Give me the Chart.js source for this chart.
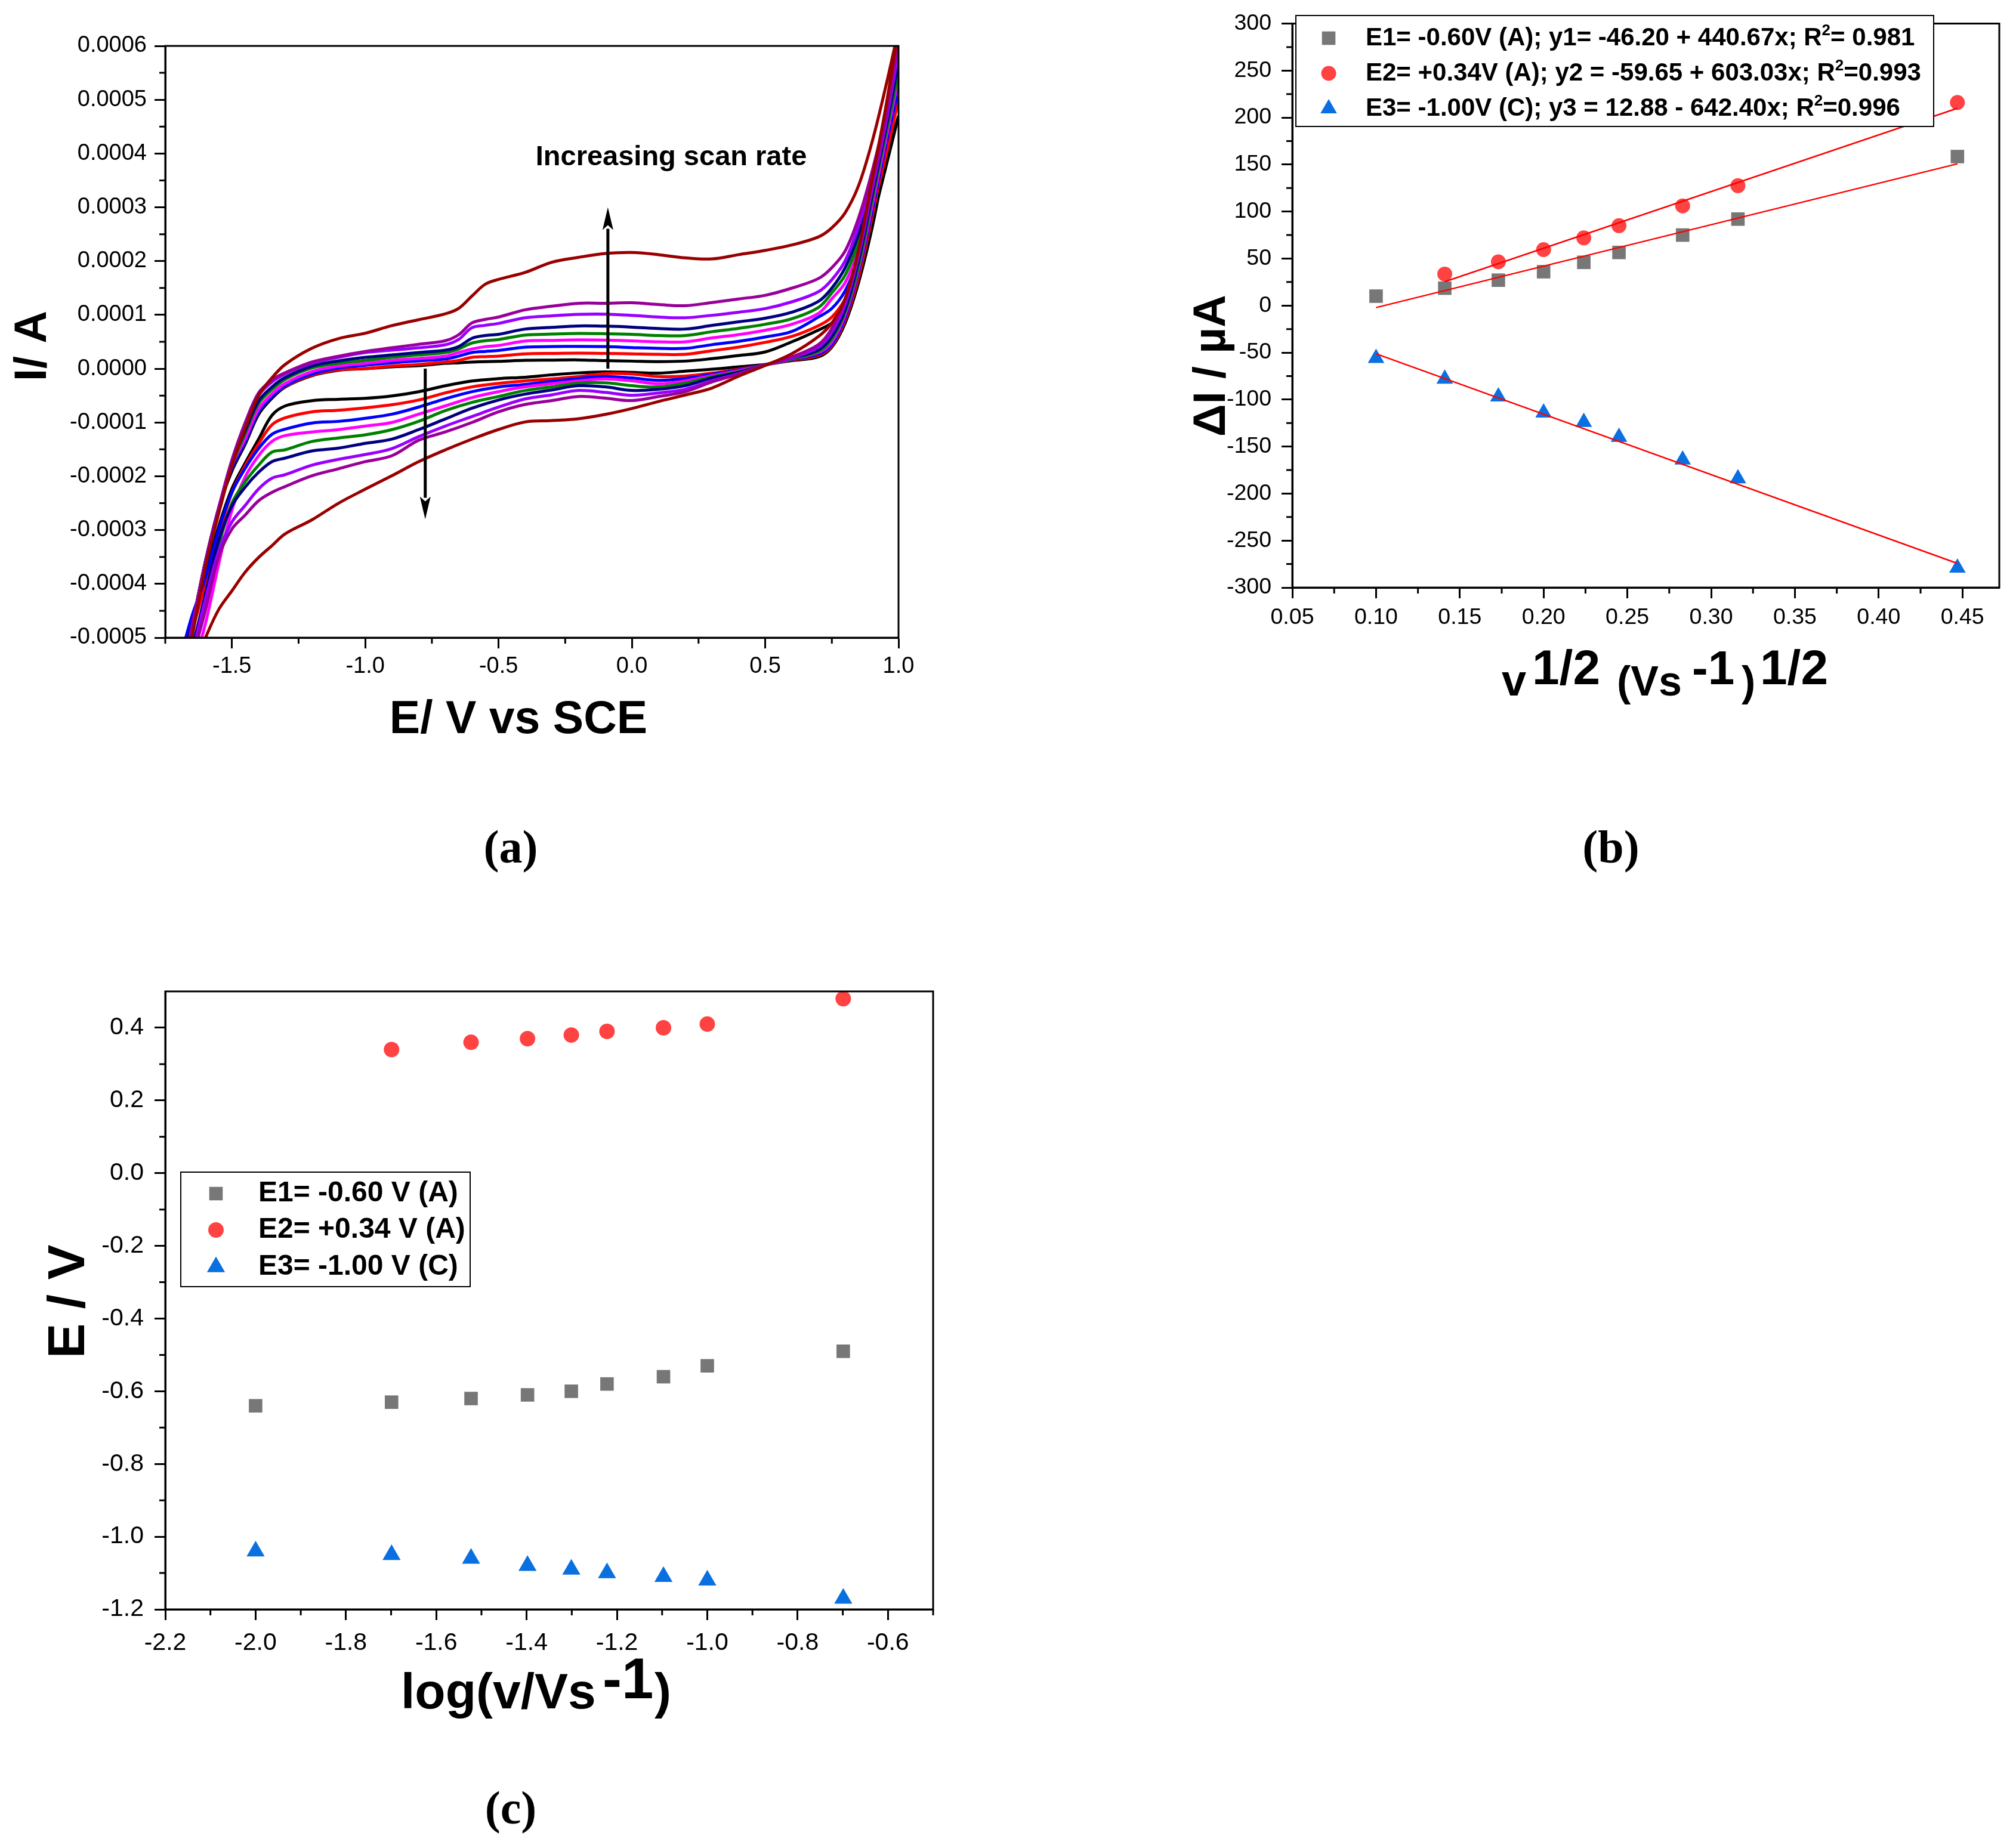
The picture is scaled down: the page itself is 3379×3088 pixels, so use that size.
<!DOCTYPE html>
<html>
<head>
<meta charset="utf-8">
<script src="https://cdn.jsdelivr.net/npm/chart.js@4.4.1/dist/chart.umd.min.js"></script>
<style>
  html, body { margin: 0; padding: 0; background: #fff; }
  body { width: 3379px; height: 3088px; position: relative; overflow: hidden; }
  canvas { position: absolute; }
</style>
</head>
<body>
<canvas id="cv" width="1650" height="1500" style="left:0;top:0"></canvas>
<canvas id="peaks" width="1679" height="1500" style="left:1700px;top:0"></canvas>
<canvas id="potentials" width="1650" height="1588" style="left:0;top:1500px"></canvas>
<script>
// ---------- (a) cyclic voltammograms, current in units of 1e-4 A ----------
const scanRates = ['10', '20', '30', '40', '50', '60', '80', '100', '200']; // mV/s
const fwdPotential = [-1.70, -1.65, -1.60, -1.55, -1.50, -1.45, -1.40, -1.35, -1.30, -1.20, -1.10, -1.00, -0.90, -0.80, -0.70, -0.65, -0.60, -0.55, -0.50, -0.40, -0.30, -0.20, -0.10, 0.00, 0.10, 0.20, 0.30, 0.40, 0.50, 0.60, 0.70, 0.75, 0.80, 0.85, 0.90, 0.95, 1.00];
const revPotential = [1.00, 0.95, 0.90, 0.85, 0.80, 0.75, 0.70, 0.60, 0.50, 0.40, 0.30, 0.20, 0.10, 0.00, -0.10, -0.20, -0.30, -0.40, -0.50, -0.60, -0.70, -0.80, -0.90, -1.00, -1.10, -1.20, -1.30, -1.35, -1.40, -1.45, -1.50, -1.55, -1.60, -1.65, -1.70];

const cv10Fwd = [-6.0, -4.8, -3.6, -2.6, -1.9, -1.4, -0.85, -0.55, -0.34, -0.13, -0.03, 0.00, 0.035, 0.057, 0.10, 0.11, 0.123, 0.132, 0.136, 0.155, 0.159, 0.163, 0.15, 0.141, 0.132, 0.141, 0.186, 0.244, 0.311, 0.50, 0.72, 0.85, 1.10, 1.70, 2.70, 3.70, 4.70];
const cv10Rev = [4.70, 3.80, 2.60, 1.60, 0.85, 0.40, 0.22, 0.15, 0.08, 0.034, -0.011, -0.047, -0.083, -0.069, -0.06, -0.078, -0.114, -0.159, -0.185, -0.229, -0.317, -0.428, -0.507, -0.551, -0.569, -0.595, -0.692, -0.868, -1.31, -1.75, -2.23, -2.94, -3.82, -4.66, -5.60];
const cv20Fwd = [-6.0, -4.8, -3.6, -2.6, -1.85, -1.35, -0.80, -0.52, -0.33, -0.12, -0.022, 0.004, 0.048, 0.079, 0.123, 0.154, 0.211, 0.224, 0.233, 0.275, 0.284, 0.289, 0.284, 0.275, 0.266, 0.266, 0.334, 0.401, 0.49, 0.60, 0.80, 0.96, 1.30, 1.90, 2.90, 3.90, 5.00];
const cv20Rev = [5.00, 4.00, 2.80, 1.70, 0.90, 0.42, 0.25, 0.16, 0.07, -0.01, -0.083, -0.137, -0.146, -0.10, -0.092, -0.146, -0.19, -0.226, -0.273, -0.339, -0.45, -0.582, -0.67, -0.727, -0.772, -0.802, -0.913, -1.045, -1.397, -1.80, -2.30, -3.10, -4.00, -4.90, -5.80];
const cv30Fwd = [-6.0, -4.8, -3.6, -2.6, -1.85, -1.35, -0.80, -0.52, -0.317, -0.097, 0.013, 0.066, 0.11, 0.145, 0.18, 0.233, 0.30, 0.321, 0.339, 0.40, 0.41, 0.414, 0.41, 0.392, 0.378, 0.378, 0.446, 0.508, 0.589, 0.692, 0.961, 1.12, 1.45, 2.05, 3.00, 4.10, 5.20];
const cv30Rev = [5.20, 4.10, 2.90, 1.80, 0.95, 0.45, 0.27, 0.17, 0.07, -0.024, -0.105, -0.181, -0.217, -0.172, -0.146, -0.181, -0.235, -0.293, -0.339, -0.427, -0.56, -0.714, -0.846, -0.921, -0.979, -1.01, -1.124, -1.22, -1.485, -1.85, -2.30, -3.00, -3.90, -4.60, -5.50];
const cv40Fwd = [-6.0, -4.8, -3.6, -2.6, -1.8, -1.3, -0.75, -0.47, -0.273, -0.053, 0.048, 0.101, 0.154, 0.19, 0.233, 0.30, 0.366, 0.41, 0.432, 0.513, 0.526, 0.535, 0.53, 0.517, 0.499, 0.499, 0.571, 0.634, 0.714, 0.826, 1.028, 1.30, 1.60, 2.20, 3.10, 4.20, 5.40];
const cv40Rev = [5.40, 4.20, 3.00, 1.85, 1.00, 0.50, 0.30, 0.18, 0.07, -0.038, -0.128, -0.226, -0.28, -0.226, -0.19, -0.226, -0.28, -0.338, -0.427, -0.538, -0.692, -0.846, -1.00, -1.067, -1.133, -1.177, -1.243, -1.353, -1.618, -2.01, -2.63, -3.64, -4.75, -5.60, -6.20];
const cv50Fwd = [-6.0, -4.8, -3.6, -2.6, -1.8, -1.2, -0.65, -0.39, -0.198, 0.013, 0.101, 0.154, 0.211, 0.255, 0.30, 0.366, 0.476, 0.52, 0.542, 0.625, 0.643, 0.656, 0.65, 0.638, 0.616, 0.616, 0.687, 0.75, 0.826, 0.929, 1.14, 1.41, 1.74, 2.35, 3.20, 4.30, 5.50];
const cv50Rev = [5.50, 4.30, 3.10, 1.90, 1.05, 0.55, 0.32, 0.18, 0.07, -0.055, -0.15, -0.27, -0.338, -0.316, -0.262, -0.27, -0.338, -0.405, -0.516, -0.626, -0.78, -0.979, -1.133, -1.23, -1.287, -1.353, -1.507, -1.551, -1.794, -2.10, -2.50, -3.30, -4.30, -5.30, -6.10];
const cv60Fwd = [-6.0, -4.8, -3.6, -2.6, -1.75, -1.15, -0.60, -0.34, -0.163, 0.048, 0.145, 0.211, 0.255, 0.30, 0.344, 0.41, 0.564, 0.617, 0.639, 0.737, 0.768, 0.795, 0.79, 0.773, 0.746, 0.737, 0.804, 0.871, 0.938, 1.05, 1.252, 1.50, 1.88, 2.50, 3.35, 4.40, 5.70];
const cv60Rev = [5.70, 4.40, 3.20, 2.00, 1.10, 0.60, 0.35, 0.20, 0.07, -0.069, -0.172, -0.316, -0.383, -0.405, -0.338, -0.316, -0.396, -0.472, -0.582, -0.736, -0.935, -1.133, -1.309, -1.388, -1.477, -1.53, -1.662, -1.728, -1.926, -2.20, -2.55, -3.20, -4.20, -5.20, -6.00];
const cv80Fwd = [-6.0, -4.8, -3.6, -2.6, -1.7, -1.05, -0.50, -0.25, -0.097, 0.101, 0.211, 0.30, 0.344, 0.388, 0.445, 0.542, 0.762, 0.806, 0.842, 0.947, 0.983, 1.01, 1.014, 0.992, 0.961, 0.947, 0.992, 1.05, 1.117, 1.243, 1.431, 1.655, 2.01, 2.65, 3.50, 4.55, 5.90];
const cv80Rev = [5.90, 4.50, 3.30, 2.10, 1.20, 0.68, 0.40, 0.20, 0.07, -0.092, -0.226, -0.383, -0.45, -0.495, -0.441, -0.405, -0.486, -0.562, -0.714, -0.89, -1.067, -1.265, -1.485, -1.595, -1.684, -1.794, -1.97, -2.036, -2.235, -2.54, -2.85, -3.40, -4.30, -5.30, -6.10];
const cv100Fwd = [-6.0, -4.8, -3.6, -2.6, -1.7, -1.0, -0.45, -0.21, -0.075, 0.123, 0.233, 0.321, 0.388, 0.454, 0.52, 0.63, 0.85, 0.916, 0.96, 1.095, 1.162, 1.216, 1.216, 1.225, 1.193, 1.171, 1.229, 1.296, 1.364, 1.498, 1.677, 1.879, 2.19, 2.80, 3.65, 4.70, 6.10];
const cv100Rev = [6.10, 4.60, 3.40, 2.20, 1.30, 0.75, 0.45, 0.22, 0.07, -0.10, -0.248, -0.428, -0.517, -0.593, -0.548, -0.517, -0.593, -0.665, -0.802, -1.00, -1.177, -1.331, -1.618, -1.728, -1.86, -1.992, -2.19, -2.30, -2.455, -2.72, -2.98, -3.50, -4.50, -5.40, -6.20];
const cv200Fwd = [-6.2, -5.0, -3.7, -2.7, -1.8, -1.1, -0.50, -0.17, 0.08, 0.38, 0.56, 0.66, 0.80, 0.91, 1.02, 1.12, 1.35, 1.57, 1.66, 1.79, 1.98, 2.07, 2.14, 2.16, 2.12, 2.06, 2.04, 2.12, 2.20, 2.30, 2.45, 2.62, 2.90, 3.40, 4.20, 5.20, 6.30];
const cv200Rev = [6.30, 4.80, 3.50, 2.20, 1.30, 0.85, 0.60, 0.28, 0.06, -0.14, -0.36, -0.49, -0.61, -0.74, -0.85, -0.93, -0.965, -0.99, -1.13, -1.31, -1.51, -1.73, -1.99, -2.24, -2.50, -2.81, -3.07, -3.29, -3.51, -3.78, -4.13, -4.48, -5.01, -5.60, -6.20];

const cvForward = [cv10Fwd, cv20Fwd, cv30Fwd, cv40Fwd, cv50Fwd, cv60Fwd, cv80Fwd, cv100Fwd, cv200Fwd];
const cvReverse = [cv10Rev, cv20Rev, cv30Rev, cv40Rev, cv50Rev, cv60Rev, cv80Rev, cv100Rev, cv200Rev];
const cvTicksX = [-1.5, -1.0, -0.5, 0.0, 0.5, 1.0];
const cvMinorX = [-1.75, -1.25, -0.75, -0.25, 0.25, 0.75];
const cvTicksY = [-5, -4, -3, -2, -1, 0, 1, 2, 3, 4, 5, 6];
const cvMinorY = [-4.5, -3.5, -2.5, -1.5, -0.5, 0.5, 1.5, 2.5, 3.5, 4.5, 5.5];
const scanArrows = [{ x: -0.09, from: 0, to: 3.0 }, { x: -0.775, from: 0, to: -2.8 }];

// ---------- (b) peak current vs square root of scan rate, µA ----------
const sqrtScanRate = [0.100, 0.141, 0.173, 0.200, 0.224, 0.245, 0.283, 0.316, 0.447];
const peakE1 = [10, 18.5, 27, 36, 46, 56.5, 75, 92, 158.5];
const peakE2 = [null, 33.5, 46.5, 59.5, 72, 85, 106, 127.5, 216];
const peakE3 = [-56, -78, -97, -114, -124, -140, -164, -184, -279];
const fitIntercept = [-46.20, -59.65, 12.88];
const fitSlope = [440.67, 603.03, -642.40];
const peakLegend = [
  ['E1= -0.60V (A); y1= -46.20 + 440.67x; R', '2', '= 0.981'],
  ['E2= +0.34V (A); y2 = -59.65 + 603.03x; R', '2', '=0.993'],
  ['E3= -1.00V (C); y3 = 12.88 - 642.40x; R', '2', '=0.996']
];
const peakTicksX = [0.05, 0.10, 0.15, 0.20, 0.25, 0.30, 0.35, 0.40, 0.45];
const peakMinorX = [0.075, 0.125, 0.175, 0.225, 0.275, 0.325, 0.375, 0.425];
const peakTicksY = [-300, -250, -200, -150, -100, -50, 0, 50, 100, 150, 200, 250, 300];
const peakMinorY = [-275, -225, -175, -125, -75, -25, 25, 75, 125, 175, 225, 275];

// ---------- (c) peak potential vs log scan rate, V ----------
const logScanRate = [-2.000, -1.699, -1.523, -1.398, -1.301, -1.222, -1.097, -1.000, -0.699];
const potE1 = [-0.64, -0.63, -0.62, -0.61, -0.60, -0.58, -0.56, -0.53, -0.49];
const potE2 = [null, 0.34, 0.36, 0.37, 0.38, 0.39, 0.40, 0.41, 0.48];
const potE3 = [-1.04, -1.05, -1.06, -1.08, -1.09, -1.10, -1.11, -1.12, -1.17];
const potLegend = ['E1= -0.60 V (A)', 'E2= +0.34 V (A)', 'E3= -1.00 V (C)'];
const potTicksX = [-2.2, -2.0, -1.8, -1.6, -1.4, -1.2, -1.0, -0.8, -0.6];
const potMinorX = [-2.1, -1.9, -1.7, -1.5, -1.3, -1.1, -0.9, -0.7, -0.5];
const potTicksY = [-1.2, -1.0, -0.8, -0.6, -0.4, -0.2, 0.0, 0.2, 0.4];
const potMinorY = [-1.1, -0.9, -0.7, -0.5, -0.3, -0.1, 0.1, 0.3];

// ---------- styles ----------
const SANS = '"Liberation Sans", Arial, Helvetica, sans-serif';
const SERIF = '"Liberation Serif", "Times New Roman", serif';
const cvColors = ['#000000', '#ff0000', '#0000ff', '#ff00ff', '#008000', '#000080', '#9900ff', '#990099', '#990000'];
const markerStyles = ['rect', 'circle', 'triangle'];
const markerColors = ['#777777', '#ff4242', '#0a6fe0'];

Chart.defaults.font.family = SANS;
Chart.defaults.color = '#000';

function axis(o) {
  return {
    type: 'linear', min: o.min, max: o.max,
    afterBuildTicks: s => { s.ticks = o.ticks.map(v => ({ value: v })); },
    afterFit: s => { if (o.width) s.width = o.width; if (o.height) s.height = o.height; },
    ticks: { callback: o.fmt, font: { size: o.size, family: SANS }, color: '#000', padding: o.pad, maxRotation: 0, autoSkip: false, includeBounds: false },
    grid: { display: true, drawOnChartArea: false, drawTicks: true, tickLength: 18, tickWidth: 3, tickColor: '#000' },
    border: { display: true, width: 3, color: '#000' }
  };
}

function drawMarker(ctx, style, r, x, y, color) {
  ctx.fillStyle = color;
  ctx.beginPath();
  if (style === 'rect') {
    const s = r * Math.SQRT1_2;
    ctx.rect(x - s, y - s, 2 * s, 2 * s);
  } else if (style === 'circle') {
    ctx.arc(x, y, r, 0, 2 * Math.PI);
  } else {
    for (let k = 0; k < 3; k++) {
      const a = k * 2 * Math.PI / 3;
      const px = x + Math.sin(a) * r, py = y - Math.cos(a) * r;
      if (k) ctx.lineTo(px, py); else ctx.moveTo(px, py);
    }
    ctx.closePath();
  }
  ctx.fill();
}

// frame on all four sides plus short minor ticks
function framePlugin(xMinor, yMinor) {
  return {
    id: 'frame',
    afterDatasetsDraw(chart) {
      const { ctx, chartArea: a } = chart;
      const xs = chart.scales.x, ys = chart.scales.y;
      ctx.save();
      ctx.strokeStyle = '#000';
      ctx.lineWidth = 3;
      ctx.strokeRect(a.left, a.top, a.right - a.left, a.bottom - a.top);
      ctx.beginPath();
      xMinor.forEach(v => { const p = xs.getPixelForValue(v); ctx.moveTo(p, a.bottom); ctx.lineTo(p, a.bottom + 10); });
      yMinor.forEach(v => { const p = ys.getPixelForValue(v); ctx.moveTo(a.left, p); ctx.lineTo(a.left - 10, p); });
      ctx.stroke();
      ctx.restore();
    }
  };
}

// axis titles and panel letters, given in page coordinates
function textPlugin(items, ox, oy) {
  return {
    id: 'texts',
    afterDraw(chart) {
      const ctx = chart.ctx;
      ctx.save();
      ctx.translate(-ox, -oy);
      ctx.fillStyle = '#000';
      items.forEach(it => {
        ctx.save();
        ctx.font = it.font;
        ctx.textAlign = it.align || 'center';
        ctx.textBaseline = it.baseline || 'alphabetic';
        ctx.translate(it.x, it.y);
        if (it.rotate) ctx.rotate(it.rotate);
        ctx.fillText(it.text, 0, 0);
        ctx.restore();
      });
      ctx.restore();
    }
  };
}

function legendPlugin(box, rows, markerX, textX, rowY, fontSize, radii, ox, oy) {
  return {
    id: 'boxLegend',
    afterDraw(chart) {
      const ctx = chart.ctx;
      ctx.save();
      ctx.translate(-ox, -oy);
      ctx.fillStyle = '#fff';
      ctx.fillRect(box[0], box[1], box[2] - box[0], box[3] - box[1]);
      ctx.strokeStyle = '#000';
      ctx.lineWidth = 2;
      ctx.strokeRect(box[0], box[1], box[2] - box[0], box[3] - box[1]);
      rows.forEach((parts, i) => {
        drawMarker(ctx, markerStyles[i], radii[i], markerX, rowY[i], markerColors[i]);
        ctx.fillStyle = '#000';
        ctx.textAlign = 'left';
        ctx.textBaseline = 'middle';
        let x = textX;
        [].concat(parts).forEach((t, k) => {
          const sup = k === 1;
          ctx.font = `bold ${sup ? Math.round(fontSize * 0.62) : fontSize}px ${SANS}`;
          ctx.fillText(t, x, rowY[i] - (sup ? fontSize * 0.3 : 0));
          x += ctx.measureText(t).width;
        });
      });
      ctx.restore();
    }
  };
}

function arrowPlugin(arrows) {
  return {
    id: 'arrows',
    afterDatasetsDraw(chart) {
      const { ctx } = chart;
      const xs = chart.scales.x, ys = chart.scales.y;
      ctx.save();
      ctx.fillStyle = '#000';
      ctx.strokeStyle = '#000';
      ctx.lineWidth = 5;
      arrows.forEach(a => {
        const px = xs.getPixelForValue(a.x);
        const p0 = ys.getPixelForValue(a.from), p1 = ys.getPixelForValue(a.to);
        const dir = Math.sign(p1 - p0), head = 36;
        ctx.beginPath();
        ctx.moveTo(px, p0);
        ctx.lineTo(px, p1 - dir * head);
        ctx.stroke();
        ctx.beginPath();
        ctx.moveTo(px, p1);
        ctx.lineTo(px - 9, p1 - dir * (head + 2));
        ctx.lineTo(px, p1 - dir * (head - 6));
        ctx.lineTo(px + 9, p1 - dir * (head + 2));
        ctx.closePath();
        ctx.fill();
      });
      ctx.restore();
    }
  };
}

const baseOptions = (padding, scales) => ({
  responsive: false,
  animation: false,
  events: [],
  layout: { padding },
  plugins: { legend: { display: false }, tooltip: { enabled: false } },
  scales
});

// ---------- chart (a) ----------
const cvDatasets = cvForward.map((fwd, i) => ({
  label: scanRates[i] + ' mV/s',
  data: fwdPotential.map((e, k) => ({ x: e, y: fwd[k] }))
    .concat(revPotential.map((e, k) => ({ x: e, y: cvReverse[i][k] }))),
  showLine: true,
  borderColor: cvColors[i],
  borderWidth: 5,
  pointRadius: 0,
  tension: 0.35,
  clip: 0,
  order: cvForward.length - i
}));

new Chart(document.getElementById('cv'), {
  type: 'scatter',
  data: { datasets: cvDatasets },
  options: baseOptions({ left: 0, top: 77, right: 144, bottom: 0 }, {
    x: axis({ min: -1.75, max: 1.0, ticks: cvTicksX, fmt: v => v.toFixed(1), size: 38, pad: 8, height: 431 }),
    y: axis({ min: -5, max: 6, ticks: cvTicksY, fmt: v => (v * 1e-4).toFixed(4), size: 38, pad: 13, width: 277 })
  }),
  plugins: [
    framePlugin(cvMinorX, cvMinorY),
    arrowPlugin(scanArrows),
    textPlugin([
      { text: 'I/ A', font: `bold 76px ${SANS}`, x: 77, y: 580, rotate: -Math.PI / 2 },
      { text: 'E/ V vs SCE', font: `bold 77px ${SANS}`, x: 869, y: 1229 },
      { text: 'Increasing scan rate', font: `bold 47px ${SANS}`, x: 1125, y: 277 },
      { text: '(a)', font: `bold 78px ${SERIF}`, x: 856, y: 1426, baseline: 'middle' }
    ], 0, 0)
  ]
});

// ---------- chart (b) ----------
const peakSeries = [peakE1, peakE2, peakE3];
const peakPoints = peakSeries.map(ys => sqrtScanRate.map((x, k) => ({ x, y: ys[k] })).filter(p => p.y !== null));
const peakRadii = [16, 12.5, 16];
const fitDatasets = peakPoints.map((pts, i) => {
  const x0 = pts[0].x, x1 = pts[pts.length - 1].x;
  return {
    label: 'fit ' + (i + 1),
    data: [{ x: x0, y: fitIntercept[i] + fitSlope[i] * x0 }, { x: x1, y: fitIntercept[i] + fitSlope[i] * x1 }],
    showLine: true, borderColor: '#ff0000', borderWidth: 2.5, pointRadius: 0, clip: false, order: 0
  };
});
const peakDatasets = peakPoints.map((pts, i) => ({
  label: 'E' + (i + 1),
  data: pts,
  pointStyle: markerStyles[i],
  pointRadius: peakRadii[i],
  pointBackgroundColor: markerColors[i],
  pointBorderWidth: 0,
  clip: false,
  order: 1
}));

new Chart(document.getElementById('peaks'), {
  type: 'scatter',
  data: { datasets: fitDatasets.concat(peakDatasets) },
  options: baseOptions({ left: 0, top: 29, right: 28, bottom: 0 }, {
    x: axis({ min: 0.05, max: 0.472, ticks: peakTicksX, fmt: v => v.toFixed(2), size: 37.5, pad: 10, height: 515 }),
    y: axis({ min: -300, max: 300, ticks: peakTicksY, fmt: v => String(v), size: 37.5, pad: 17, width: 466 })
  }),
  plugins: [
    framePlugin(peakMinorX, peakMinorY),
    legendPlugin([2172, 26, 3241, 212], peakLegend, 2227, 2289, [64, 123, 182], 42, peakRadii, 1700, 0),
    textPlugin([
      { text: 'ΔI / µA', font: `bold 76px ${SANS}`, x: 2053, y: 613, rotate: -Math.PI / 2 },
      { text: 'v', font: `bold 74px ${SANS}`, x: 2517, y: 1166, align: 'left' },
      { text: '1/2', font: `bold 82px ${SANS}`, x: 2568, y: 1147, align: 'left' },
      { text: '(Vs', font: `bold 70px ${SANS}`, x: 2710, y: 1166, align: 'left' },
      { text: '-1', font: `bold 80px ${SANS}`, x: 2836, y: 1147, align: 'left' },
      { text: ')', font: `bold 70px ${SANS}`, x: 2919, y: 1166, align: 'left' },
      { text: '1/2', font: `bold 82px ${SANS}`, x: 2950, y: 1147, align: 'left' },
      { text: '(b)', font: `bold 78px ${SERIF}`, x: 2700, y: 1426, baseline: 'middle' }
    ], 1700, 0)
  ]
});

// ---------- chart (c) ----------
const potSeries = [potE1, potE2, potE3];
const potRadii = [16, 13, 17.5];
const potDatasets = potSeries.map((ys, i) => ({
  label: potLegend[i],
  data: logScanRate.map((x, k) => ({ x, y: ys[k] })).filter(p => p.y !== null),
  pointStyle: markerStyles[i],
  pointRadius: potRadii[i],
  pointBackgroundColor: markerColors[i],
  pointBorderWidth: 0,
  clip: false
}));

new Chart(document.getElementById('potentials'), {
  type: 'scatter',
  data: { datasets: potDatasets },
  options: baseOptions({ left: 0, top: 162, right: 86, bottom: 0 }, {
    x: axis({ min: -2.2, max: -0.5, ticks: potTicksX, fmt: v => v.toFixed(1), size: 41, pad: 14, height: 390 }),
    y: axis({ min: -1.2, max: 0.5, ticks: potTicksY, fmt: v => v.toFixed(1), size: 41, pad: 18, width: 277 })
  }),
  plugins: [
    framePlugin(potMinorX, potMinorY),
    legendPlugin([303, 1965, 788, 2157], potLegend, 362, 433, [2001, 2062, 2124], 48, [16, 13, 17.5], 0, 1500),
    textPlugin([
      { text: 'E / V', font: `bold 88px ${SANS}`, x: 141, y: 2182, rotate: -Math.PI / 2 },
      { text: 'log(v/Vs', font: `bold 84px ${SANS}`, x: 672, y: 2864, align: 'left' },
      { text: '-1', font: `bold 96px ${SANS}`, x: 1010, y: 2847, align: 'left' },
      { text: ')', font: `bold 84px ${SANS}`, x: 1097, y: 2864, align: 'left' },
      { text: '(c)', font: `bold 78px ${SERIF}`, x: 856, y: 3037, baseline: 'middle' }
    ], 0, 1500)
  ]
});
</script>
</body>
</html>
